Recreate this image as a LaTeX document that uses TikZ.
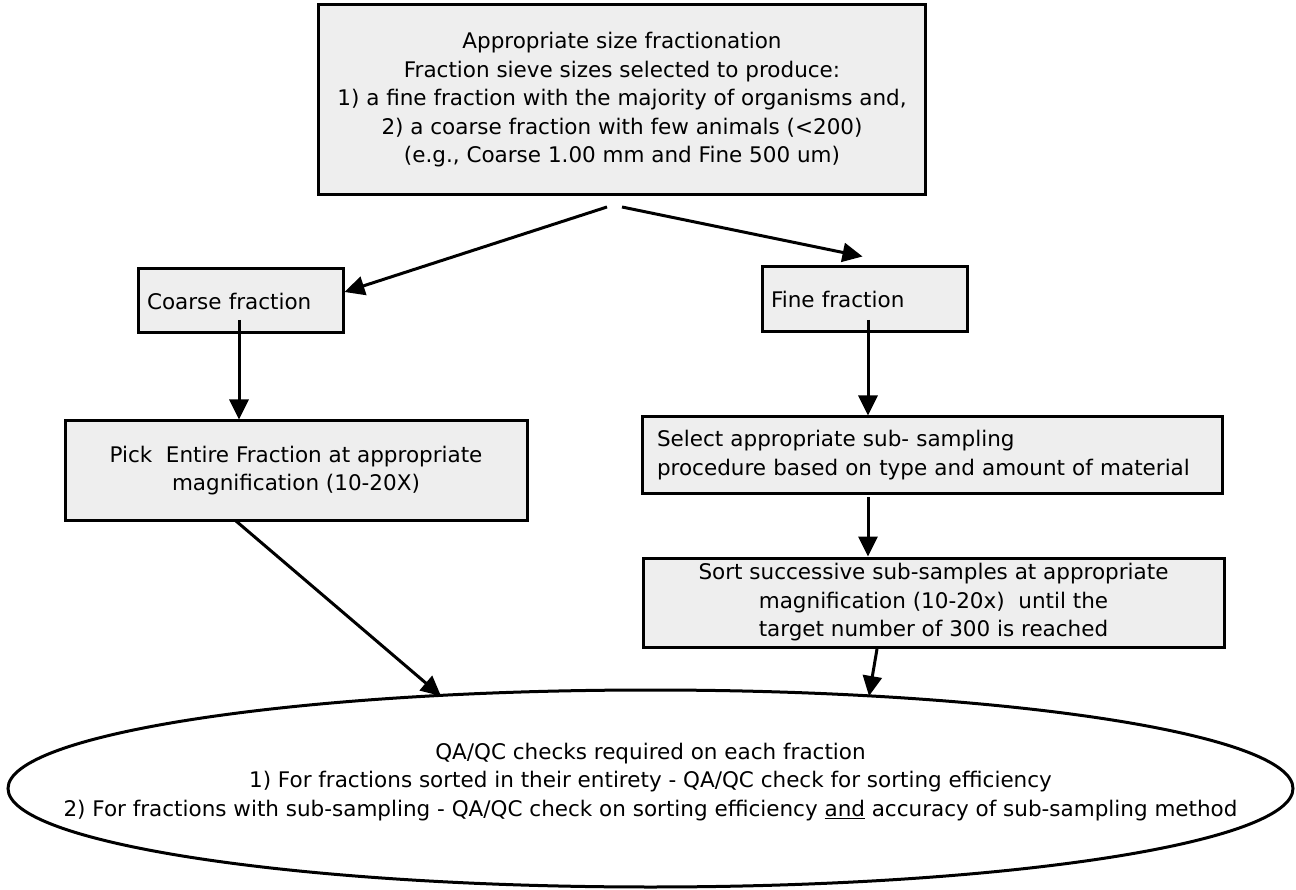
\documentclass[tikz,border=0pt]{standalone}
\usepackage{fontspec}
\setmainfont{DejaVu Sans}
\usetikzlibrary{arrows.meta,shapes.geometric}
\definecolor{boxgray}{RGB}{238,238,238}
\newcommand\fsz{\fontsize{21.5}{28.5}\selectfont}
\begin{document}
\begin{tikzpicture}[x=1pt,y=-1pt,
  box/.style={draw=black, line width=3pt, fill=boxgray, inner sep=0pt, font=\fsz},
  qastyle/.style={draw=black, ellipse, line width=3pt, fill=white, inner sep=0pt},
  qatext/.style={inner sep=0pt, font=\fsz, align=center},
  arr/.style={line width=3pt, -{Triangle[length=20pt,width=19pt]}},
]
\useasboundingbox (0,0) rectangle (1296,890);
\node[box, minimum width=607pt, minimum height=190pt, align=center] (top) at (622,100)
  {Appropriate size fractionation\\Fraction sieve sizes selected to produce:\\1) a fine fraction with the majority of organisms and,\\ 2) a coarse fraction with few animals (<200)\\(e.g., Coarse 1.00 mm and Fine 500 um)};
\node[box, minimum width=205pt, minimum height=64pt, text width=187pt, align=left] (coarse) at (240.5,301) {Coarse fraction};
\node[box, minimum width=205pt, minimum height=65pt, text width=187pt, align=left] (fine) at (864.5,299.5) {Fine fraction};
\node[box, minimum width=462pt, minimum height=99pt, align=center] (pick) at (296,470.5)
  {Pick\ \ Entire Fraction at appropriate\\magnification (10-20X)};
\node[box, minimum width=580pt, minimum height=76pt, text width=550pt, align=left] (select) at (932,455)
  {Select appropriate sub- sampling\\procedure based on type and amount of material};
\node[box, minimum width=581pt, minimum height=89pt, align=center] (sort) at (933.5,602.5)
  {Sort successive sub-samples at appropriate\\magnification (10-20x)\ \ until the\\target number of 300 is reached};
\node[qastyle, minimum width=1285pt, minimum height=197pt] (qa) at (650.5,788.5) {};
\node[qatext] (qat) at (650.5,782)
  {QA/QC checks required on each fraction\\1) For fractions sorted in their entirety - QA/QC check for sorting efficiency\\2) For fractions with sub-sampling - QA/QC check on sorting efficiency \underline{and} accuracy of sub-sampling method};

\coordinate (t1) at (607,207);
\coordinate (t2) at (622,207);
\coordinate (c1) at (239,320);
\coordinate (f1) at (868,320);
\coordinate (s1) at (868,497);
\coordinate (s2) at (877,649);
\coordinate (e2) at (869,696);
\coordinate (p1) at (236,521);
\coordinate (e1) at (441,696);

\draw[arr] (t1) -- ([yshift=9pt]coarse.east);
\draw[arr] (t2) -- ([xshift=-2pt,yshift=9pt]fine.north);
\draw[arr] (c1) -- (c1 |- pick.north);
\draw[arr] (f1) -- (f1 |- select.north);
\draw[arr] (s1) -- (s1 |- sort.north);
\draw[arr] (s2) -- (e2);
\draw[arr] (p1) -- (e1);
\end{tikzpicture}
\end{document}
